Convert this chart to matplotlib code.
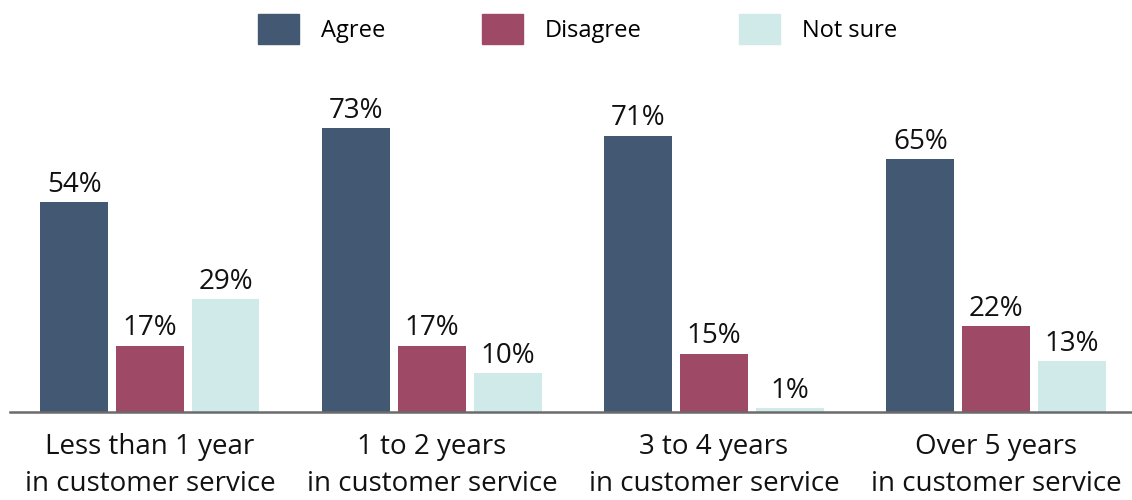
import matplotlib.pyplot as plt
import numpy as np
from matplotlib.patches import Patch

plt.rcParams['font.family'] = ['Open Sans', 'DejaVu Sans']

categories = ['Less than 1 year\nin customer service', '1 to 2 years\nin customer service',
              '3 to 4 years\nin customer service', 'Over 5 years\nin customer service']
series = ['Agree', 'Disagree', 'Not sure']
agree = [54, 73, 71, 65]
disagree = [17, 17, 15, 22]
not_sure = [29, 10, 1, 13]
colors = ['#435872', '#9e4a66', '#d0eaea']

fig = plt.figure(figsize=(11.32, 5), dpi=100)
ax = fig.add_axes([10 / 1132, 88 / 500, 1 - 10 / 1132, 350 / 500])

x = np.arange(len(categories))
width = 0.241
step = 0.268
for i, (vals, col) in enumerate(zip([agree, disagree, not_sure], colors)):
    pos = x + (i - 1) * step
    ax.bar(pos, vals, width=width, color=col)
    for p, v in zip(pos, vals):
        ax.text(p, v + 0.9, f'{v}%', ha='center', va='bottom', fontsize=20, color='#111111')

ax.set_xlim(-0.496, 3.482)
ax.set_ylim(0, 90)
ax.set_xticks(x)
ax.set_xticklabels(categories, fontsize=20, color='#111111', linespacing=1.42)
ax.tick_params(axis='x', length=0, pad=15)
ax.set_yticks([])
for s in ['top', 'right', 'left']:
    ax.spines[s].set_visible(False)
ax.spines['bottom'].set_color('#6b6b6b')
ax.spines['bottom'].set_linewidth(1.8)

handles = [Patch(color=c, label=s) for c, s in zip(colors, series)]
fig.legend(handles=handles, loc='center', bbox_to_anchor=(0.51, 0.942), ncol=3,
           frameon=False, fontsize=17, handlelength=1.74, handleheight=1.6,
           handletextpad=0.93, columnspacing=4.1, borderaxespad=0)

fig.savefig('out.png', dpi=100)
